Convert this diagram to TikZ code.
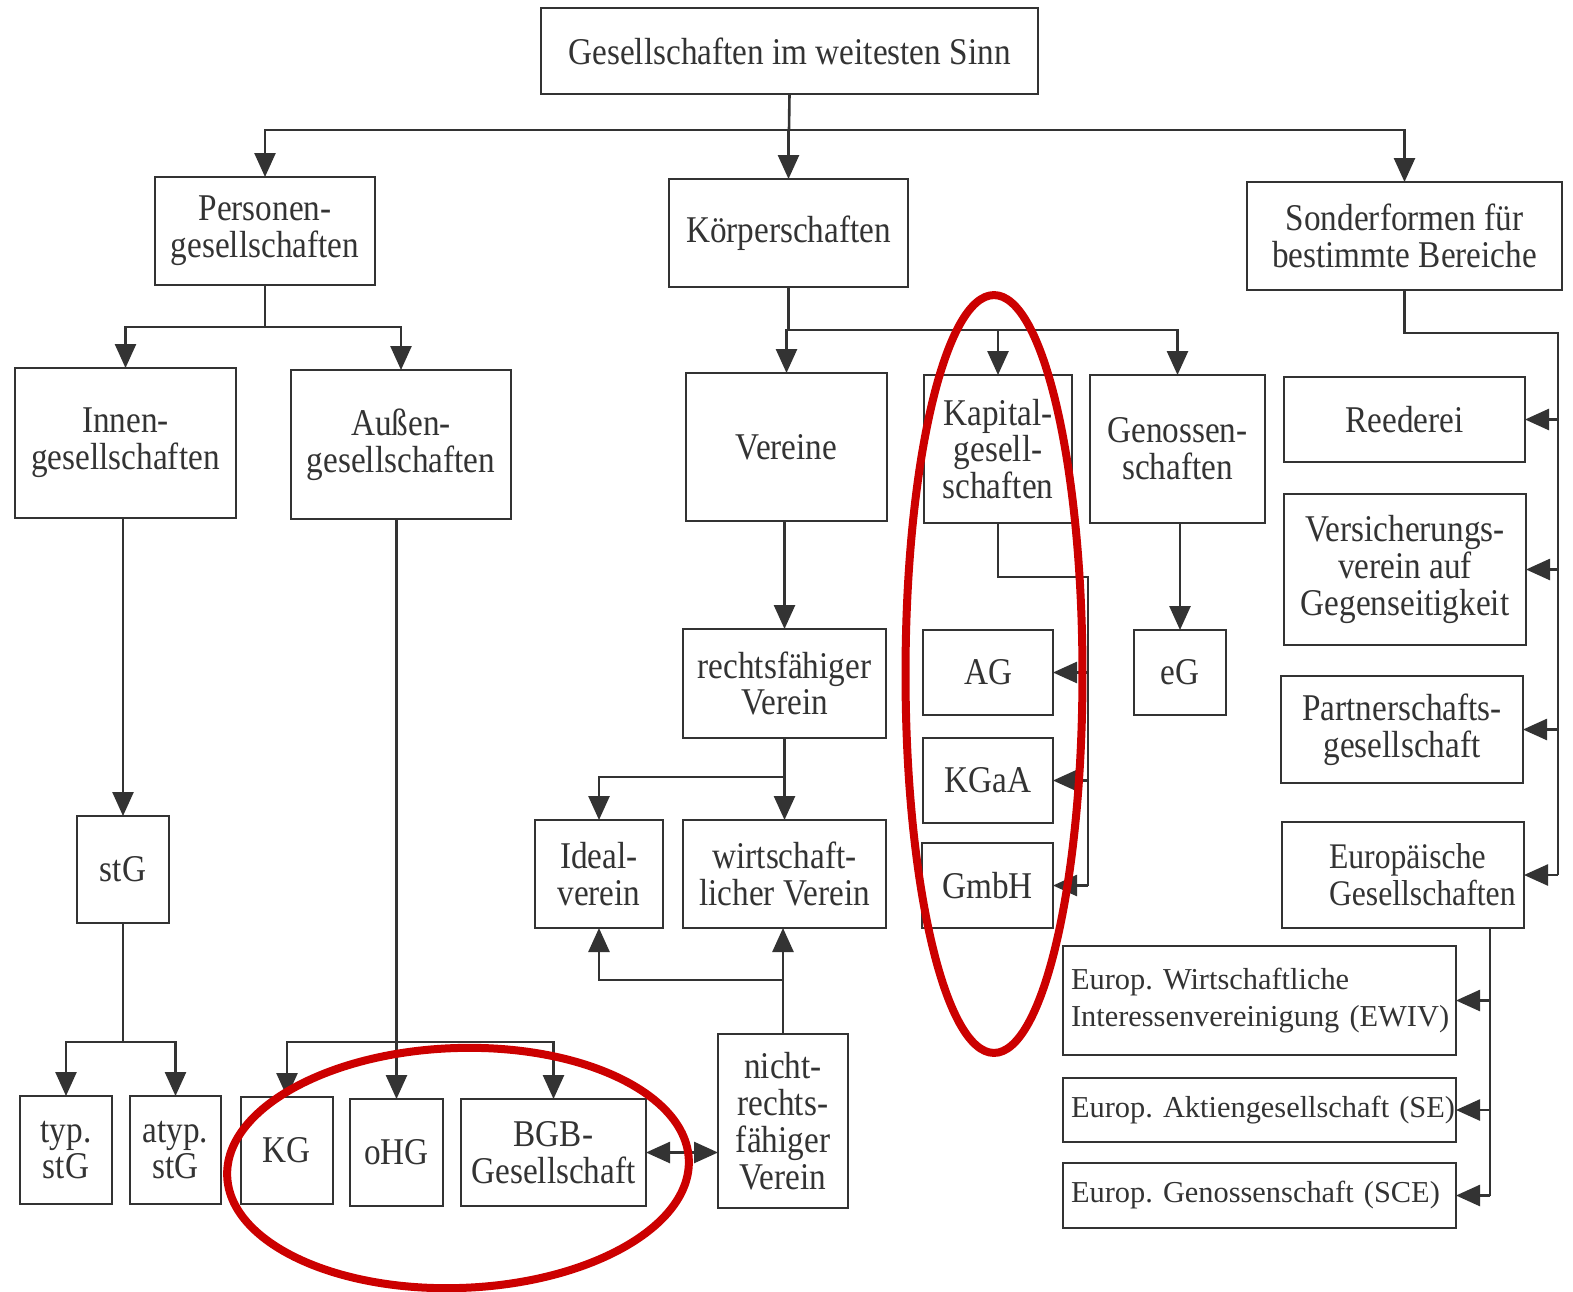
\documentclass[tikz,border=0pt]{standalone}
\usepackage{fontspec}
\setmainfont[FakeStretch=0.88]{Liberation Serif}
\newfontfamily\plainserif{Liberation Serif}
\usetikzlibrary{arrows.meta}
\definecolor{ink}{HTML}{333333}
\definecolor{redmark}{HTML}{CC0000}
\newcommand{\pbox}[7][]{\node[pbox, minimum width={(#5-#3)*0.02cm}, minimum height={(#6-#4)*0.02cm}, #1] (#2) at ({(#3+#5)/2},{(#4+#6)/2}) {#7};}
\frenchspacing
\begin{document}
\begin{tikzpicture}[x=0.02cm, y=-0.02cm,
  pbox/.style={draw=ink, line width=0.058cm, inner sep=0pt, outer sep=0pt, align=center, text=ink,
    font=\fontsize{21.5pt}{21pt}\selectfont},
  eubox/.style={align=left, text width={377*0.02cm}, font=\plainserif\fontsize{17.3pt}{21.5pt}\selectfont},
  conn/.style={draw=ink, line width=0.052cm},
  arr/.style={conn, -{Triangle[length=0.48cm,width=0.42cm]}},
  dbl/.style={conn, {Triangle[length=0.48cm,width=0.42cm]}-{Triangle[length=0.48cm,width=0.42cm]}},
  redring/.style={draw=redmark, line width=0.16cm}]
\fill[white] (0,0) rectangle (1573,1292);
\useasboundingbox (0,0) rectangle (1573,1292);

\pbox{top}{541}{8}{1038}{94}{Gesellschaften im weitesten Sinn}
\pbox{pers}{155}{177}{375}{285}{Personen-\\gesellschaften}
\pbox{koerp}{669}{179}{908}{287}{Körperschaften}
\pbox{sonder}{1247}{182}{1562}{290}{Sonderformen für\\bestimmte Bereiche}
\pbox{innen}{15}{368}{236}{518}{Innen-\\gesellschaften}
\pbox{aussen}{291}{370}{511}{519}{Außen-\\gesellschaften}
\pbox{vereine}{686}{373}{887}{521}{Vereine}
\pbox{kapital}{924}{375}{1072}{523}{Kapital-\\gesell-\\schaften}
\pbox{genossen}{1090}{375}{1265}{523}{Genossen-\\schaften}
\pbox{reed}{1284}{377}{1525}{462}{Reederei}
\pbox{vers}{1284}{494}{1526}{645}{Versicherungs-\\verein auf\\Gegenseitigkeit}
\pbox{part}{1281}{676}{1523}{783}{Partnerschafts-\\gesellschaft}
\pbox[align=left, text width={148*0.02cm}, font=\fontsize{20.5pt}{21pt}\selectfont]{europ}{1282}{822}{1524}{928}{Europäische\\\mbox{Gesellschaften}}
\pbox{rechts}{683}{629}{886}{738}{rechtsfähiger\\Verein}
\pbox{ag}{923}{630}{1053}{715}{AG}
\pbox{kgaa}{923}{738}{1053}{823}{KGaA}
\pbox{gmbh}{922}{843}{1053}{928}{GmbH}
\pbox{eg}{1134}{630}{1226}{715}{eG}
\pbox{stg}{77}{816}{169}{923}{stG}
\pbox{ideal}{535}{820}{663}{928}{Ideal-\\verein}
\pbox{wirt}{683}{820}{886}{928}{wirtschaft-\\licher Verein}
\pbox[eubox]{ewiv}{1063}{946}{1456}{1055}{\mbox{Europ. Wirtschaftliche}\\\mbox{Interessenvereinigung (EWIV)}}
\pbox[eubox]{se}{1063}{1078}{1456}{1142}{\mbox{Europ. Aktiengesellschaft (SE)}}
\pbox[eubox]{sce}{1063}{1163}{1456}{1228}{\mbox{Europ. Genossenschaft (SCE)}}
\pbox{typ}{20}{1096}{112}{1204}{typ.\\stG}
\pbox{atyp}{130}{1096}{221}{1204}{atyp.\\stG}
\pbox{kg}{241}{1097}{333}{1204}{KG}
\pbox{ohg}{350}{1099}{443}{1206}{oHG}
\pbox{bgb}{461}{1099}{646}{1206}{BGB-\\Gesellschaft}
\pbox{nicht}{718}{1034}{848}{1208}{nicht-\\rechts-\\fähiger\\Verein}

% top level
\coordinate (j1) at (789,130);
\draw[conn] (top.south) -- (j1);
\draw[arr] (j1) -| (pers.north);
\draw[arr] (koerp.north |- j1) -- (koerp.north);
\draw[arr] (j1) -| (sonder.north);

% Personengesellschaften
\coordinate (j2) at (265,327);
\draw[conn] (pers.south) -- (j2);
\draw[arr] (j2) -| (innen.north);
\draw[arr] (j2) -| (aussen.north);

\draw[arr] (stg.north |- innen.south) -- (stg.north);
\coordinate (j3) at (123,1042);
\draw[conn] (stg.south) -- (j3);
\draw[arr] (j3) -| (typ.north);
\draw[arr] (j3) -| (atyp.north);

\draw[arr] (ohg.north |- aussen.south) -- (ohg.north);
\coordinate (j4) at (396.5,1042);
\draw[arr] (j4) -| (kg.north);
\draw[arr] (j4) -| (bgb.north);

% Koerperschaften
\coordinate (j5) at (788.5,330);
\draw[conn] (koerp.south) -- (j5);
\draw[arr] (j5) -| (vereine.north);
\draw[arr] (j5) -| (kapital.north);
\draw[arr] (j5) -| (genossen.north);

\draw[arr] (rechts.north |- vereine.south) -- (rechts.north);
\coordinate (j6) at (784.5,777);
\draw[conn] (rechts.south) -- (j6);
\draw[arr] (j6) -| (ideal.north);
\draw[arr] (j6) -- (wirt.north);

\coordinate (j7) at (783,980);
\draw[arr] (nicht.north) -- (nicht.north |- wirt.south);
\draw[arr] (j7) -| (ideal.south);

\draw[dbl] (bgb.east) -- (nicht.west |- bgb.east);

\coordinate (k1) at (1088,577);
\draw[conn] (kapital.south) |- (k1) -- (k1 |- gmbh.east);
\draw[arr] (k1 |- ag.east) -- (ag.east);
\draw[arr] (k1 |- kgaa.east) -- (kgaa.east);
\draw[arr] (k1 |- gmbh.east) -- (gmbh.east);

\draw[arr] (eg.north |- genossen.south) -- (eg.north);

% Sonderformen
\coordinate (s1) at (1558,333);
\draw[conn] (sonder.south) |- (s1) -- (s1 |- europ.east);
\draw[arr] (s1 |- reed.east) -- (reed.east);
\draw[arr] (s1 |- vers.east) -- (vers.east);
\draw[arr] (s1 |- part.east) -- (part.east);
\draw[arr] (s1 |- europ.east) -- (europ.east);

\coordinate (e1) at (1490,928);
\draw[conn] (e1) -- (e1 |- sce.east);
\draw[arr] (e1 |- ewiv.east) -- (ewiv.east);
\draw[arr] (e1 |- se.east) -- (se.east);
\draw[arr] (e1 |- sce.east) -- (sce.east);

% red markings
\draw[redring, rotate around={2:(458,1168)}] (458,1168) ellipse [x radius=4.62cm, y radius=2.4cm];
\draw[redring] (994,674) ellipse [x radius=1.77cm, y radius=7.58cm];
\end{tikzpicture}
\end{document}
